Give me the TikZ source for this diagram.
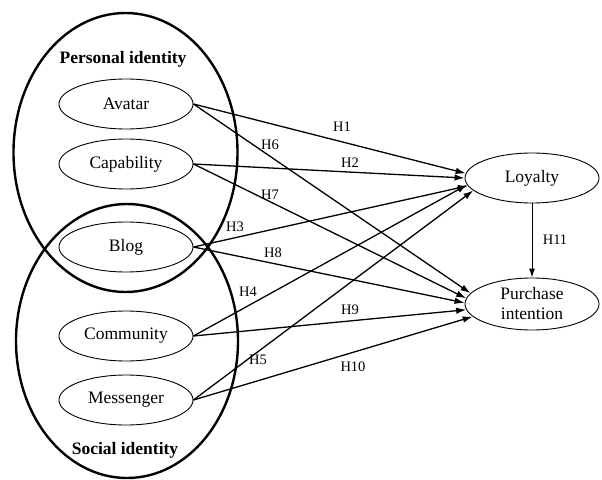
\documentclass[tikz,border=0pt]{standalone}
\usepackage{fontspec}
\setmainfont{Liberation Serif}
\usetikzlibrary{shapes.geometric,arrows.meta}
\begin{document}
\begin{tikzpicture}[x=1pt,y=-1pt,
  group/.style={ellipse,draw,line width=2.4pt,inner sep=0pt},
  construct/.style={ellipse,draw,line width=0.9pt,inner sep=0pt,minimum width=134pt,minimum height=50pt,
    font=\fontsize{17.5}{20}\selectfont,align=center},
  grouplabel/.style={font=\fontsize{17.5}{20}\selectfont\bfseries},
  hyp/.style={font=\fontsize{14.5}{16}\selectfont,inner sep=0pt},
  path/.style={line width=1.3pt,-{Latex[length=10pt,width=6.5pt]}}]
\useasboundingbox (0,0) rectangle (602,479);
% group ellipses
\node[group,minimum width=224pt,minimum height=279pt] (personal) at (125.5,152.5) {};
\node[group,minimum width=222pt,minimum height=274pt] (social) at (127,341) {};
\node[grouplabel] (plabel) at (123,59) {Personal identity};
\node[grouplabel] (slabel) at (125,450) {Social identity};
% constructs
\node[construct] (avatar) at (126,104) {Avatar};
\node[construct] (capability) at (126,164) {Capability};
\node[construct] (blog) at (126,247) {Blog};
\node[construct] (community) at (126,336) {Community};
\node[construct] (messenger) at (126,400) {Messenger};
\node[construct] (loyalty) at (532,178) {Loyalty};
\node[construct,minimum height=52pt] (purchase) at (532,304) {Purchase\\intention};
% paths to loyalty
\draw[path] (avatar.east) -- (loyalty.176);
\draw[path] (capability.east) -- (loyalty.180);
\draw[path] (blog.east) -- (loyalty.187);
\draw[path] (community.east) -- (loyalty.186);
\draw[path] (messenger.east) -- (loyalty.192);
% paths to purchase intention
\draw[path] (avatar.east) -- (purchase.170);
\draw[path] (capability.east) -- (purchase.175);
\draw[path] (blog.east) -- (purchase.179);
\draw[path] (community.east) -- (purchase.185);
\draw[path] (messenger.east) -- (purchase.192);
\draw[line width=1pt,-{Latex[length=9pt,width=6pt]}] (loyalty.south) -- (purchase.north);
% hypothesis labels
\node[hyp] (h1) at (342,127) {H1};
\node[hyp] (h2) at (350,163) {H2};
\node[hyp] (h3) at (235,227) {H3};
\node[hyp] (h4) at (248,292) {H4};
\node[hyp] (h5) at (258,360) {H5};
\node[hyp] (h6) at (270,145) {H6};
\node[hyp] (h7) at (270,195) {H7};
\node[hyp] (h8) at (273,253) {H8};
\node[hyp] (h9) at (350,310) {H9};
\node[hyp] (h10) at (353,367) {H10};
\node[hyp] (h11) at (555,240) {H11};
\end{tikzpicture}
\end{document}
